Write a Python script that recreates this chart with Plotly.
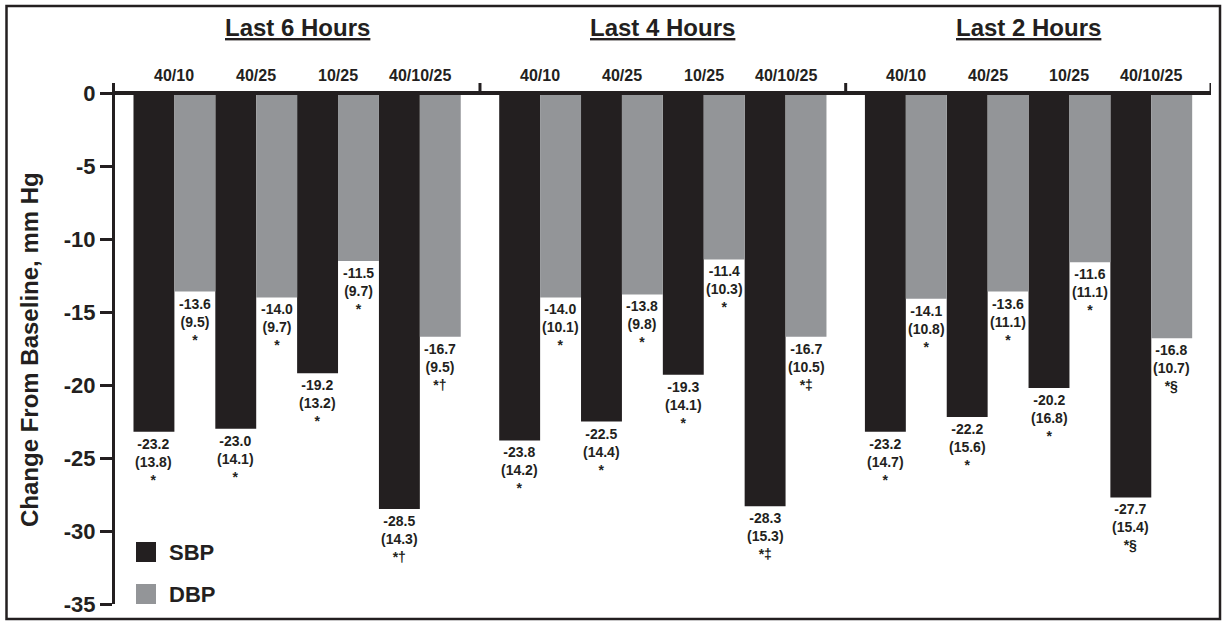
import plotly.graph_objects as go

# ---- data -------------------------------------------------------------
periods = ["Last 6 Hours", "Last 4 Hours", "Last 2 Hours"]
regimens = ["40/10", "40/25", "10/25", "40/10/25"]

sbp_mean = [[-23.2, -23.0, -19.2, -28.5],
            [-23.8, -22.5, -19.3, -28.3],
            [-23.2, -22.2, -20.2, -27.7]]
sbp_sd = [[13.8, 14.1, 13.2, 14.3],
          [14.2, 14.4, 14.1, 15.3],
          [14.7, 15.6, 16.8, 15.4]]
sbp_sig = [["*", "*", "*", "*†"],
           ["*", "*", "*", "*‡"],
           ["*", "*", "*", "*§"]]

dbp_mean = [[-13.6, -14.0, -11.5, -16.7],
            [-14.0, -13.8, -11.4, -16.7],
            [-14.1, -13.6, -11.6, -16.8]]
dbp_sd = [[9.5, 9.7, 9.7, 9.5],
          [10.1, 9.8, 10.3, 10.5],
          [10.8, 11.1, 11.1, 10.7]]
dbp_sig = [["*", "*", "*", "*†"],
           ["*", "*", "*", "*‡"],
           ["*", "*", "*", "*§"]]

y_ticks = [0, -5, -10, -15, -20, -25, -30, -35]

# ---- style ------------------------------------------------------------
SBP_COLOR = "#231f20"
DBP_COLOR = "#939598"
INK = "#231f20"
FONT = "Liberation Sans, Arial, Helvetica, sans-serif"

W, H = 1224, 622
L, R, T, B = 115, 13, 83, 18          # plot-area margins in px
PW, PH = W - L - R, H - T - B
Y_MIN, Y_MAX = -35, 0.685
GROUP_STEP = 8.94                       # distance between period blocks (bar widths)
X_MIN, X_MAX = -0.952, 2 * GROUP_STEP + 7 + 0.96


def px_x(px):
    return (px - L) / PW


def px_y(py):
    return (H - B - py) / PH


# bar positions: each regimen gets an SBP bar followed by a DBP bar
sbp_x, dbp_x, sbp_y, dbp_y = [], [], [], []
for g in range(len(periods)):
    for p in range(len(regimens)):
        base = g * GROUP_STEP + 2 * p
        sbp_x.append(base)
        dbp_x.append(base + 1)
        sbp_y.append(sbp_mean[g][p])
        dbp_y.append(dbp_mean[g][p])

fig = go.Figure()
fig.add_trace(go.Bar(x=sbp_x, y=sbp_y, width=1, name="SBP",
                     marker=dict(color=SBP_COLOR, line=dict(width=0)),
                     showlegend=False, hoverinfo="skip"))
fig.add_trace(go.Bar(x=dbp_x, y=dbp_y, width=1, name="DBP",
                     marker=dict(color=DBP_COLOR, line=dict(width=0)),
                     showlegend=False, hoverinfo="skip"))

annotations = []
shapes = []

# value labels under each bar: mean, (SD), significance marks
for g in range(len(periods)):
    for p in range(len(regimens)):
        base = g * GROUP_STEP + 2 * p
        for dx, mean, sd, sig in ((0, sbp_mean, sbp_sd, sbp_sig),
                                  (1, dbp_mean, dbp_sd, dbp_sig)):
            annotations.append(dict(
                x=base + dx, y=mean[g][p], xref="x", yref="y",
                text=f"<b>{mean[g][p]:.1f}<br>({sd[g][p]:.1f})<br>{sig[g][p]}</b>",
                showarrow=False, yanchor="top", xanchor="center", yshift=-2,
                font=dict(family=FONT, size=14, color=INK), align="center"))
        # regimen label above the pair
        annotations.append(dict(
            x=base + 0.5, y=0, xref="x", yref="y", text=f"<b>{regimens[p]}</b>",
            showarrow=False, yanchor="middle", xanchor="center", yshift=18,
            font=dict(family=FONT, size=16, color=INK)))
    # period header, underlined
    annotations.append(dict(
        x=g * GROUP_STEP + 3.5, y=0, xref="x", yref="y",
        text=f"<b><u>{periods[g]}</u></b>",
        showarrow=False, yanchor="middle", xanchor="center", yshift=66,
        font=dict(family=FONT, size=24, color=INK)))

# top category axis at y = 0 with separator ticks between periods
shapes.append(dict(type="line", xref="paper", yref="y", x0=0, x1=1, y0=0, y1=0,
                   line=dict(color=INK, width=4), layer="above"))
sep_positions = [g * GROUP_STEP + 7.5 + (GROUP_STEP - 8) / 2 for g in range(2)] + [X_MAX]
for sx in sep_positions:
    shapes.append(dict(type="line", xref="x", yref="y", x0=sx, x1=sx, y0=0, y1=Y_MAX,
                       line=dict(color=INK, width=3), layer="above"))

# y-axis title
annotations.append(dict(
    x=px_x(29), y=px_y(350), xref="paper", yref="paper", textangle=-90,
    text="<b>Change From Baseline, mm Hg</b>", showarrow=False,
    xanchor="center", yanchor="middle",
    font=dict(family=FONT, size=24, color=INK)))

# legend
for name, color, top in (("SBP", SBP_COLOR, 542), ("DBP", DBP_COLOR, 584)):
    shapes.append(dict(type="rect", xref="paper", yref="paper",
                       x0=px_x(136), x1=px_x(156), y0=px_y(top + 20), y1=px_y(top),
                       fillcolor=color, line=dict(width=0)))
    annotations.append(dict(
        x=px_x(167), y=px_y(top + 10), xref="paper", yref="paper",
        text=f"<b>{name}</b>", showarrow=False, xanchor="left", yanchor="middle",
        font=dict(family=FONT, size=22, color=INK)))

# outer frame
shapes.append(dict(type="rect", xref="paper", yref="paper",
                   x0=px_x(6.5), x1=px_x(1220), y0=px_y(619), y1=px_y(6),
                   line=dict(color=INK, width=2.5), fillcolor="rgba(0,0,0,0)"))

fig.update_layout(
    width=W, height=H,
    margin=dict(l=L, r=R, t=T, b=B, autoexpand=False),
    paper_bgcolor="white", plot_bgcolor="white",
    barmode="overlay",
    font=dict(family=FONT, color=INK),
    xaxis=dict(range=[X_MIN, X_MAX], visible=False, fixedrange=True),
    yaxis=dict(range=[Y_MIN, Y_MAX], tickvals=y_ticks,
               ticktext=[f"<b>{v}</b>" for v in y_ticks],
               tickfont=dict(family=FONT, size=22, color=INK),
               showline=True, linecolor=INK, linewidth=3,
               ticks="outside", ticklen=12, tickwidth=3, tickcolor=INK,
               showgrid=False, zeroline=False, fixedrange=True),
    annotations=annotations,
    shapes=shapes,
)

fig.write_html("out.html")
